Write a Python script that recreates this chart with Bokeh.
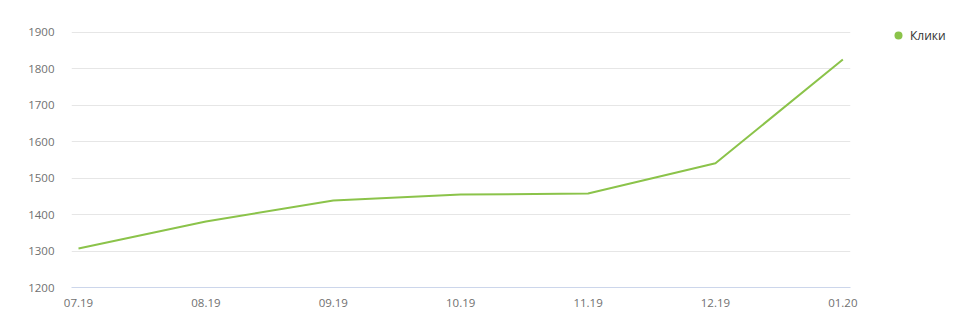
from bokeh.plotting import figure
from bokeh.layouts import row
from bokeh.models import FixedTicker, Range1d, Legend, LegendItem, ColumnDataSource
from bokeh.embed import file_html
from bokeh.resources import INLINE

months = ["07.19", "08.19", "09.19", "10.19", "11.19", "12.19", "01.20"]
clicks = [1307, 1381, 1439, 1455, 1458, 1541, 1826]
y_ticks = [1200, 1300, 1400, 1500, 1600, 1700, 1800, 1900]
series_name = "Клики"
color = "#8bc34a"

xs = list(range(len(months)))
src = ColumnDataSource(dict(x=xs, y=clicks))

p = figure(width=858, height=329, output_backend="svg", toolbar_location=None,
           x_range=Range1d(-0.055, len(months) - 1 + 0.06),
           y_range=Range1d(1200, 1919.2),
           min_border_left=71, min_border_right=8, min_border_top=25, min_border_bottom=42)
p.outline_line_color = None
p.background_fill_color = "white"
p.border_fill_color = "white"

p.line("x", "y", source=src, line_color=color, line_width=2)

p.xgrid.grid_line_color = None
p.ygrid.grid_line_color = "#e6e6e6"
p.ygrid.ticker = FixedTicker(ticks=y_ticks)

p.yaxis.ticker = FixedTicker(ticks=y_ticks)
p.yaxis.axis_line_color = None
p.yaxis.major_tick_line_color = None
p.yaxis.minor_tick_line_color = None
p.yaxis.major_label_text_font = "Open Sans"
p.yaxis.major_label_text_font_size = "11.5px"
p.yaxis.major_label_text_color = "#707070"
p.yaxis.major_label_standoff = 11

p.xaxis.ticker = FixedTicker(ticks=xs)
p.xaxis.major_label_overrides = {i: m for i, m in enumerate(months)}
p.xaxis.axis_line_color = "#ccd6eb"
p.xaxis.major_tick_line_color = None
p.xaxis.minor_tick_line_color = None
p.xaxis.major_label_text_font = "Open Sans"
p.xaxis.major_label_text_font_size = "11.5px"
p.xaxis.major_label_text_color = "#707070"
p.xaxis.major_label_standoff = 5

# legend panel
q = figure(width=116, height=329, output_backend="svg", toolbar_location=None,
           x_range=Range1d(-1, 7), y_range=Range1d(0, 2000),
           min_border_left=30, min_border_top=25, min_border_right=0, min_border_bottom=0)
q.axis.visible = False
q.grid.visible = False
q.outline_line_color = None
q.border_fill_color = "white"
dot = q.scatter("x", "y", source=src, marker="circle", size=0,
                fill_color=color, line_color=None)
legend = Legend(items=[LegendItem(label=series_name, renderers=[dot])],
                location="top_left", margin=0, padding=0,
                glyph_width=20, glyph_height=20, label_standoff=2,
                label_text_font="Open Sans", label_text_font_size="12px",
                label_text_color="#333333",
                border_line_alpha=0, background_fill_alpha=0)
q.add_layout(legend)

layout = row(p, q, spacing=0)
open("out.html", "w").write(file_html(layout, INLINE))
